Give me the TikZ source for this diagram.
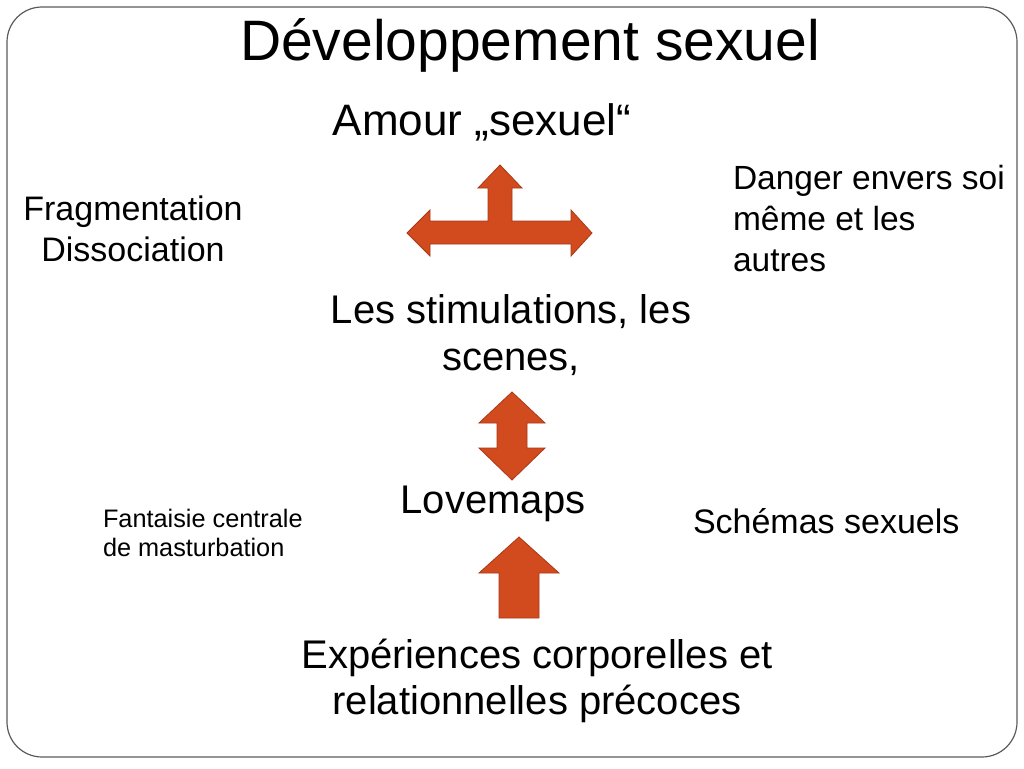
\documentclass[tikz,border=0pt]{standalone}
\usepackage{fontspec}
\setmainfont{Liberation Sans}
\usepackage{tikz}
\usetikzlibrary{positioning,calc}
\definecolor{arrowfill}{RGB}{209,75,31}
\definecolor{arrowline}{RGB}{170,56,20}
\definecolor{framegray}{RGB}{90,90,90}
\tikzset{
    x=1pt,
    y=-1pt,
    frame/.style = {
        draw=framegray,
        line width=1.2pt,
        rounded corners=35pt
    },
    txt/.style = {
        inner sep=0pt,
        outer sep=0pt,
        text=black
    },
    big/.style = {
        txt,
        font=\fontsize{40}{47}\selectfont
    },
    mid/.style = {
        txt,
        font=\fontsize{34}{41}\selectfont
    },
    small/.style = {
        txt,
        font=\fontsize{25.3}{29}\selectfont
    },
    blockarrow/.style = {
        fill=arrowfill,
        draw=arrowline,
        line width=0.8pt,
        line join=miter
    },
}

\begin{document}
\begin{tikzpicture}
                \useasboundingbox (0,0) rectangle (1024,768);
                \path[frame] (7,7) rectangle (1017,757);

                \node[txt, font=\fontsize{57}{68}\selectfont, anchor=base] (title) at (530,60) {Développement sexuel};
                \node[txt, font=\fontsize{44}{52}\selectfont, anchor=base] (amour) at (482,135) {Amour „sexuel“};
                \node[mid, align=center, anchor=north] (frag) at (133,195.7) {Fragmentation\\Dissociation};
                \node[mid, font=\fontsize{33.5}{41}\selectfont, align=left, anchor=north west] (danger) at (733,165) {Danger envers soi\\même et les\\autres};
                \node[big, align=center, anchor=north] (stim) at (511,294.5) {Les stimulations, les\\scenes,};
                \node[big, anchor=base] (love) at (493,513) {Lovemaps};
                \node[small, align=left, anchor=north west] (fant) at (103,509) {Fantaisie centrale\\de masturbation};
                \node[mid, anchor=base west] (schema) at (693,533) {Schémas sexuels};
                \node[big, font=\fontsize{40}{46}\selectfont, align=center, anchor=north] (exp) at (537,639.5) {Expériences corporelles et\\relationnelles précoces};

                % T arrow between the stimulations and amour
                \path[blockarrow] (500,165) -- (522,188) -- (512,188) -- (512,221) -- (571,221) -- (571,210) -- (592,233)
                    -- (571,256) -- (571,244) -- (430,244) -- (430,256) -- (407,233) -- (430,210) -- (430,221)
                    -- (488,221) -- (488,188) -- (478,188) -- cycle;
                % double arrow
                \path[blockarrow] (512,392) -- (545,423) -- (527,423) -- (527,448) -- (545,448) -- (512,480)
                    -- (479,448) -- (497,448) -- (497,423) -- (479,423) -- cycle;
                % up arrow
                \path[blockarrow] (519,537) -- (559,573) -- (539,573) -- (539,618) -- (499,618) -- (499,573)
                    -- (479,573) -- cycle;
            \end{tikzpicture}
\end{document}
